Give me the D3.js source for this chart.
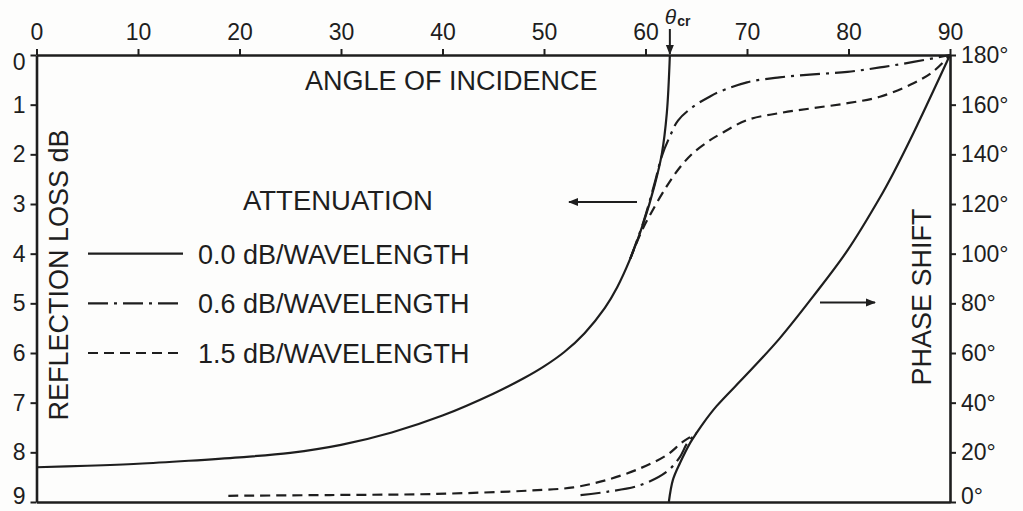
<!DOCTYPE html>
<html>
<head>
<meta charset="utf-8">
<script src="https://cdn.jsdelivr.net/npm/d3@7"></script>
<style>
  html, body { margin: 0; padding: 0; background: #fdfdfc; }
  svg { display: block; }
  text { font-family: "Liberation Sans", Arial, sans-serif; fill: #1e1e1e; }
</style>
</head>
<body>
<svg id="chart" width="1023" height="511"></svg>
<script>
// Axis ticks
const angleTicks = [0, 10, 20, 30, 40, 50, 60, 70, 80, 90];
const lossTicks = [0, 1, 2, 3, 4, 5, 6, 7, 8, 9];
const phaseTicks = [0, 20, 40, 60, 80, 100, 120, 140, 160, 180];

// Critical angle (degrees)
const criticalAngle = 62.4;

// Reflection loss (dB) vs angle of incidence
const lossAngles0 = [0, 5, 10, 15, 20, 25, 30, 35, 40, 45, 48, 50, 52, 54, 56, 57.2, 58.5, 59.8, 60.9, 61.6, 62.1, 62.4];
const lossValues0 = [8.30, 8.27, 8.23, 8.17, 8.10, 8.01, 7.85, 7.60, 7.26, 6.82, 6.51, 6.27, 5.98, 5.60, 5.09, 4.68, 4.10, 3.38, 2.62, 2.00, 1.17, 0];

const lossAngles06 = [58.5, 59.8, 60.9, 61.6, 62.4, 63.2, 64.7, 66.4, 67.3, 70, 73.2, 76.5, 79.9, 83.1, 86.4, 90];
const lossValues06 = [4.10, 3.36, 2.58, 2.04, 1.64, 1.32, 1.04, 0.83, 0.74, 0.55, 0.45, 0.39, 0.34, 0.25, 0.14, 0];

const lossAngles15 = [58.5, 59.5, 60.5, 62.1, 63.4, 64.7, 66.4, 67.3, 70, 73.2, 76.5, 79.9, 83.1, 86.4, 88.3, 90];
const lossValues15 = [4.10, 3.60, 3.20, 2.64, 2.26, 1.97, 1.71, 1.60, 1.31, 1.17, 1.07, 0.97, 0.84, 0.57, 0.34, 0];

// Phase shift (degrees) vs angle of incidence
const phaseAngles0 = [62.3, 62.7, 63.4, 64.4, 65.0, 65.7, 67, 70, 73.2, 76.5, 79.9, 83.1, 84.4, 86.4, 90];
const phaseValues0 = [0, 8.9, 15.7, 23.8, 27.6, 31.8, 38.6, 51.5, 65.8, 82.7, 101.3, 122.6, 132.3, 148.6, 180];

const phaseAngles06 = [53.6, 56.2, 59.5, 62.1, 63.4, 64.1, 65.0];
const phaseValues06 = [2.8, 4.1, 6.8, 12.2, 18.2, 23.6, 27.6];

const phaseAngles15 = [18.9, 28.9, 38.8, 48.6, 52.9, 56.2, 59.5, 62.1, 63.7, 65.0];
const phaseValues15 = [2.5, 2.8, 3.2, 4.6, 5.9, 8.9, 13.6, 18.9, 24.3, 27.6];

// Legend entries
const legendLabels = ["0.0 dB/WAVELENGTH", "0.6 dB/WAVELENGTH", "1.5 dB/WAVELENGTH"];
const legendDash = ["none", "20,6,3,6", "10,6"];

const svg = d3.select("#chart");
const ink = "#1e1e1e";
const font = '"Liberation Sans", Arial, sans-serif';

const x = d3.scaleLinear().domain([0, 90]).range([36.5, 950]);
const yLoss = d3.scaleLinear().domain([0, 9]).range([55, 502]);
const yPhase = d3.scaleLinear().domain([0, 180]).range([502, 55]);

// Axes
const gTop = svg.append("g").attr("transform", `translate(0,${yLoss(0)})`)
  .call(d3.axisTop(x).tickValues(angleTicks).tickSize(6).tickSizeOuter(0).tickPadding(9).tickFormat(d3.format("d")));
const gLeft = svg.append("g").attr("transform", `translate(${x(0)},0)`)
  .call(d3.axisLeft(yLoss).tickValues(lossTicks).tickSize(6).tickSizeOuter(0).tickPadding(5).tickFormat(d3.format("d")));
const gRight = svg.append("g").attr("transform", `translate(${x(90)},0)`)
  .call(d3.axisRight(yPhase).tickValues(phaseTicks).tickSize(6).tickSizeOuter(0).tickPadding(5).tickFormat(d => d + "°"));
const gBottom = svg.append("g").attr("transform", `translate(0,${yLoss(9)})`)
  .call(d3.axisBottom(x).tickValues([]).tickSizeOuter(0));

[gTop, gLeft, gRight, gBottom].forEach(g => {
  g.select(".domain").attr("stroke", ink).attr("stroke-width", 2.6);
  g.selectAll(".tick line").attr("stroke", ink).attr("stroke-width", 2);
  g.selectAll(".tick text").attr("fill", ink).style("font-size", "23px").style("font-family", font);
});
// End labels sit inside the frame
gLeft.selectAll(".tick text").attr("dy", d => d === 0 ? "0.62em" : d === 9 ? "0.05em" : "0.32em");
gRight.selectAll(".tick text").attr("dy", d => d === 0 ? "0.05em" : "0.32em");

// Curves
const zip = (a, b) => a.map((v, i) => [v, b[i]]);
const smooth = d3.curveCatmullRom.alpha(0.5);
const lossLine = d3.line().x(d => x(d[0])).y(d => yLoss(d[1])).curve(smooth);
const phaseLine = d3.line().x(d => x(d[0])).y(d => yPhase(d[1])).curve(smooth);

const curves = [
  { path: lossLine(zip(lossAngles0, lossValues0)), dash: legendDash[0] },
  { path: lossLine(zip(lossAngles06, lossValues06)), dash: legendDash[1] },
  { path: lossLine(zip(lossAngles15, lossValues15)), dash: legendDash[2] },
  { path: phaseLine(zip(phaseAngles0, phaseValues0)), dash: legendDash[0] },
  { path: phaseLine(zip(phaseAngles06, phaseValues06)), dash: legendDash[1] },
  { path: phaseLine(zip(phaseAngles15, phaseValues15)), dash: legendDash[2] }
];
svg.append("g").selectAll("path").data(curves).join("path")
  .attr("d", d => d.path)
  .attr("fill", "none")
  .attr("stroke", ink)
  .attr("stroke-width", 2.2)
  .attr("stroke-dasharray", d => d.dash);

// Arrowhead marker
svg.append("defs").append("marker")
  .attr("id", "head").attr("viewBox", "0 0 10 10")
  .attr("refX", 9).attr("refY", 5)
  .attr("markerWidth", 6).attr("markerHeight", 5)
  .attr("markerUnits", "strokeWidth")
  .attr("orient", "auto")
  .append("path").attr("d", "M0,1 L10,5 L0,9 Z").attr("fill", ink);

// Critical angle marker
svg.append("line")
  .attr("x1", x(criticalAngle)).attr("x2", x(criticalAngle))
  .attr("y1", 29).attr("y2", yLoss(0) - 1)
  .attr("stroke", ink).attr("stroke-width", 2).attr("marker-end", "url(#head)");
const crit = svg.append("text").attr("x", x(criticalAngle) - 5).attr("y", 24)
  .style("font-size", "21px");
crit.append("tspan").text("θ").style("font-style", "italic");
crit.append("tspan").text("cr").attr("dx", 1).attr("dy", 2).style("font-size", "14px").style("font-weight", "bold");

// Pointers to the respective axes
svg.append("line")
  .attr("x1", 637).attr("x2", 569).attr("y1", yLoss(2.96)).attr("y2", yLoss(2.96))
  .attr("stroke", ink).attr("stroke-width", 2).attr("marker-end", "url(#head)");
svg.append("line")
  .attr("x1", 820).attr("x2", 875).attr("y1", yPhase(80.3)).attr("y2", yPhase(80.3))
  .attr("stroke", ink).attr("stroke-width", 2).attr("marker-end", "url(#head)");

// Axis titles
svg.append("text").attr("x", 305).attr("y", 90).style("font-size", "27px")
  .text("ANGLE OF INCIDENCE");
svg.append("text")
  .attr("transform", `translate(68,275) rotate(-90)`)
  .attr("text-anchor", "middle").style("font-size", "27px")
  .text("REFLECTION LOSS dB");
svg.append("text")
  .attr("transform", `translate(931,297) rotate(-90)`)
  .attr("text-anchor", "middle").style("font-size", "27px")
  .text("PHASE SHIFT");

// Legend
svg.append("text").attr("x", 243).attr("y", 210).style("font-size", "27.5px").text("ATTENUATION");
const leg = svg.append("g").selectAll("g").data(legendLabels).join("g")
  .attr("transform", (d, i) => `translate(0,${yLoss(4 + i)})`);
leg.append("line").attr("x1", 88).attr("x2", 183).attr("y1", 0).attr("y2", 0)
  .attr("stroke", ink).attr("stroke-width", 2.2)
  .attr("stroke-dasharray", (d, i) => legendDash[i]);
leg.append("text").attr("x", 198).attr("y", 10).style("font-size", "27px").text(d => d);
</script>
</body>
</html>
